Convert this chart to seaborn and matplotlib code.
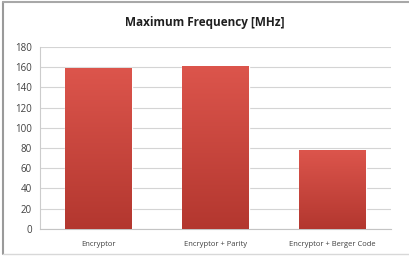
import numpy as np
import pandas as pd
import matplotlib
matplotlib.use("Agg")
import matplotlib.pyplot as plt
import seaborn as sns
from matplotlib.lines import Line2D

categories = ["Encryptor", "Encryptor + Parity", "Encryptor + Berger Code"]
max_freq = [159, 161, 78]
y_ticks = [0, 20, 40, 60, 80, 100, 120, 140, 160, 180]

df = pd.DataFrame({"design": categories, "mhz": max_freq})

sns.set_theme(style="white")
plt.rcParams["font.family"] = ["Open Sans", "DejaVu Sans"]

fig = plt.figure(figsize=(4.09, 2.57), dpi=100)
ax = fig.add_axes([0.098, 0.109, 0.858, 0.709])

sns.barplot(data=df, x="design", y="mhz", color="#c8453d", width=0.57, ax=ax, zorder=3)

# vertical red gradient on each bar, clipped to the bar shape
grad = np.linspace(0, 1, 256).reshape(-1, 1)
cmap = matplotlib.colors.LinearSegmentedColormap.from_list("bar", ["#b3372f", "#dc554c"])
for p in ax.patches:
    x0, y0 = p.get_x(), p.get_y()
    w, h = p.get_width(), p.get_height()
    im = ax.imshow(grad, extent=[x0, x0 + w, y0, y0 + h], origin="lower",
                   cmap=cmap, aspect="auto", zorder=4)
    im.set_clip_path(p)

ax.set_xlim(-0.5, 2.5)
ax.set_ylim(0, 180)
ax.set_yticks(y_ticks)
ax.yaxis.grid(True, color="#d4d4d4", linewidth=0.8, zorder=0)
ax.set_axisbelow(True)
ax.set_xlabel("")
ax.set_ylabel("")
ax.tick_params(axis="y", labelsize=7, colors="#404040", length=2, width=0.6, pad=4)
ax.tick_params(axis="y", color="#c0c0c0")
ax.tick_params(axis="x", labelsize=5.5, colors="#404040", length=0, pad=9)
for s in ["top", "right"]:
    ax.spines[s].set_visible(False)
ax.spines["left"].set_color("#cccccc")
ax.spines["bottom"].set_color("#c4c4c4")
ax.spines["left"].set_linewidth(0.8)
ax.spines["bottom"].set_linewidth(0.8)

fig.text(0.5, 0.912, "Maximum Frequency [MHz]", ha="center", va="center",
         fontsize=8.5, fontweight="bold", color="#202020")

# outer chart frame
fig.add_artist(Line2D([0.008, 0.008], [0.01, 0.992], color="#9a9a9a", linewidth=1.5))
fig.add_artist(Line2D([0.008, 1.0], [0.992, 0.992], color="#a8a8a8", linewidth=1.5))
fig.add_artist(Line2D([0.008, 1.0], [0.012, 0.012], color="#d8d8d8", linewidth=1.0))

fig.savefig("out.png", dpi=100)
